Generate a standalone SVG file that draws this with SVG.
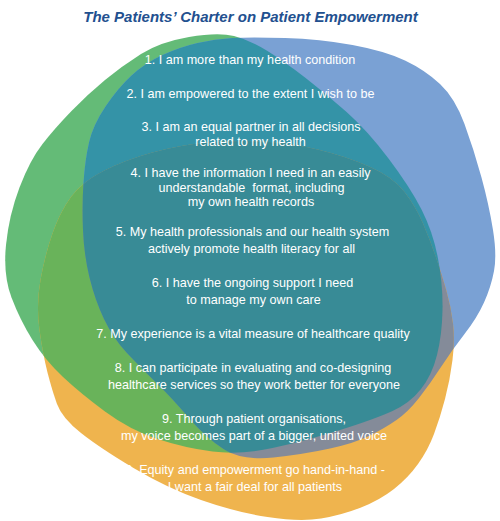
<svg xmlns="http://www.w3.org/2000/svg" width="500" height="521" viewBox="0 0 500 521">
<style>
.title{font-family:"Liberation Sans",Arial,sans-serif;font-weight:bold;font-style:italic;font-size:15px;fill:#22508f;text-anchor:middle}
.st{font-family:"Liberation Sans",Arial,sans-serif;font-size:12.6px;fill:#ffffff;text-anchor:middle}
</style>
<defs>
<path id="pGreen" d="M 189,37 Q 218,32 234,36 Q 250,40 267.5,51 Q 285,62 305,77.5 Q 325,93 346,111.5 Q 367,130 388.5,158.5 Q 410,187 421.5,209.5 Q 433,232 438,258.5 Q 443,285 442.5,310 Q 442,335 437,355 Q 432,375 421,389 Q 410,403 392.5,411 Q 375,419 340,430 Q 305,441 272.5,448 Q 240,455 212.5,451.5 Q 185,448 157.5,439 Q 130,430 105,411.5 Q 80,393 62.5,376.5 Q 45,360 32.5,340 Q 20,320 11.5,297.5 Q 3,275 6,245 Q 9,215 19.5,187.5 Q 30,160 42.5,144 Q 55,128 71.5,111 Q 88,94 105,80 Q 122,66 141,54 Q 160,42 189,37 Z"/>
<path id="pBlue" d="M 232.5,38 Q 250,37 285,38 Q 320,39 352.5,45 Q 385,51 405,60.5 Q 425,70 440,84 Q 455,98 464.5,124 Q 474,150 481.5,177.5 Q 489,205 493,230 Q 497,255 494,271 Q 491,287 484,302.5 Q 477,318 464.5,334 Q 452,350 441,367 Q 430,384 419,398 Q 408,412 396.5,420 Q 385,428 370,435.5 Q 355,443 330,448.5 Q 305,454 273.5,457.5 Q 242,461 223.5,449 Q 205,437 188.5,417.5 Q 172,398 156,382.5 Q 140,367 126.5,352.5 Q 113,338 104,319 Q 95,300 89.5,277.5 Q 84,255 83,230 Q 82,205 83.5,182.5 Q 85,160 89,142.5 Q 93,125 105.5,106.5 Q 118,88 131.5,75.5 Q 145,63 162.5,55 Q 180,47 197.5,43 Q 215,39 232.5,38 Z"/>
<path id="pOrange" d="M 207.5,142.5 Q 235,140 262.5,141.5 Q 290,143 317.5,149.5 Q 345,156 369,166.5 Q 393,177 404.5,192 Q 416,207 423,223.5 Q 430,240 436,257.5 Q 442,275 446.5,291 Q 451,307 453,323.5 Q 455,340 452.5,360 Q 450,380 445,399 Q 440,418 434,434 Q 428,450 418,464 Q 408,478 394,489 Q 380,500 361,507.5 Q 342,515 321,518.5 Q 300,522 267.5,517 Q 235,512 201,500 Q 167,488 133.5,468 Q 100,448 81,433 Q 62,418 57,404 Q 52,390 47.5,372.5 Q 43,355 39.5,330 Q 36,305 40.5,280 Q 45,255 52.5,233.5 Q 60,212 71,197 Q 82,182 103.5,171 Q 125,160 152.5,152.5 Q 180,145 207.5,142.5 Z"/>
<clipPath id="cGreen"><use href="#pGreen"/></clipPath>
<clipPath id="cBlue"><use href="#pBlue"/></clipPath>
</defs>
<rect width="500" height="521" fill="#ffffff"/>
<text class="title" x="250.5" y="22">The Patients’ Charter on Patient Empowerment</text>
<g id="circle-green"><use href="#pGreen" fill="#64bb77"/></g>
<g id="circle-blue"><use href="#pBlue" fill="#7aa1d4"/></g>
<g id="circle-orange"><use href="#pOrange" fill="#efb44e"/></g>
<g id="overlap-green-blue" clip-path="url(#cGreen)"><use href="#pBlue" fill="#3493a7"/></g>
<g id="overlap-green-orange" clip-path="url(#cGreen)"><use href="#pOrange" fill="#69b35a"/></g>
<g id="overlap-blue-orange" clip-path="url(#cBlue)"><use href="#pOrange" fill="#848b99"/></g>
<g id="overlap-all" clip-path="url(#cGreen)"><g clip-path="url(#cBlue)"><use href="#pOrange" fill="#388b96"/></g></g>
<g id="statements">
<text class="st" x="250" y="64">1. I am more than my health condition</text>
<text class="st" x="250.5" y="98">2. I am empowered to the extent I wish to be</text>
<text class="st" x="251" y="131">3. I am an equal partner in all decisions</text>
<text class="st" x="250.5" y="145.5">related to my health</text>
<text class="st" x="250.5" y="177">4. I have the information I need in an easily</text>
<text class="st" x="251.5" y="191.5" style="white-space:pre">understandable  format, including</text>
<text class="st" x="251" y="206">my own health records</text>
<text class="st" x="252.5" y="236">5. My health professionals and our health system</text>
<text class="st" x="251.5" y="253">actively promote health literacy for all</text>
<text class="st" x="252.5" y="287">6. I have the ongoing support I need</text>
<text class="st" x="253.5" y="304">to manage my own care</text>
<text class="st" x="253" y="338">7. My experience is a vital measure of healthcare quality</text>
<text class="st" x="253" y="372">8. I can participate in evaluating and co-designing</text>
<text class="st" x="254" y="389">healthcare services so they work better for everyone</text>
<text class="st" x="254" y="423">9. Through patient organisations,</text>
<text class="st" x="254" y="440">my voice becomes part of a bigger, united voice</text>
<text class="st" x="251.5" y="474">10. Equity and empowerment go hand-in-hand -</text>
<text class="st" x="255" y="491">I want a fair deal for all patients</text>
</g>
</svg>
